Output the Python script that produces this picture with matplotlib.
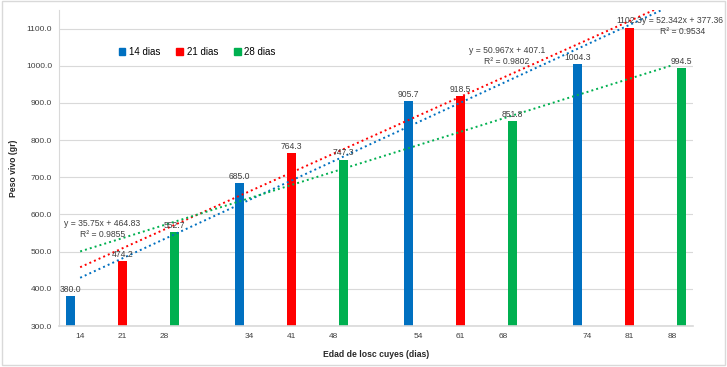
import matplotlib
matplotlib.use("Agg")
import matplotlib.pyplot as plt
from matplotlib.patches import Patch, Rectangle
import numpy as np

plt.rcParams['font.family'] = ['Liberation Sans', 'DejaVu Sans']

# category axis (blank slots separate the groups)
categories = ['14', '21', '28', '', '34', '41', '48', '', '54', '61', '68', '', '74', '81', '88']

# series values
series_names = ['14 dias', '21 dias', '28 dias']
dias14 = [380.0, 685.0, 905.7, 1004.3]
dias21 = [474.2, 764.3, 918.5, 1102.3]
dias28 = [552.7, 747.3, 851.8, 994.5]

# trendline labels as printed on the chart
trend_labels = ['y = 52.342x + 377.36\nR² = 0.9534',
                'y = 50.967x + 407.1\nR² = 0.9802',
                'y = 35.75x + 464.83\nR² = 0.9855']

colors = ['#0070C0', '#FF0000', '#00B050']
offsets = [-0.23, 0.0, 0.23]

fig = plt.figure(figsize=(7.27, 3.67), dpi=100)
ax = fig.add_axes([0.0812, 0.1117, 0.8721, 0.8611])

n_cat = len(categories)
x_all = np.arange(n_cat)

for k, (vals, col, off) in enumerate(zip([dias14, dias21, dias28], colors, offsets)):
    idx = np.array([g * 4 + k for g in range(len(vals))])
    xb = idx + off
    ax.bar(xb, np.array(vals) - 300, bottom=300, width=0.215, color=col, zorder=2)
    for xx, v in zip(xb, vals):
        ax.text(xx, v + 6, f"{v:.1f}", ha='center', va='bottom', fontsize=6.2, color='#404040', zorder=4)
    # linear trendline, Excel style (x = category number 1..15)
    xe = idx + 1
    m, b = np.polyfit(xe, vals, 1)
    ax.plot(x_all, m * (x_all + 1) + b, color=col, lw=1.4, linestyle=(0, (1, 1.6)), zorder=3)
    pos = [(14.26, 1107), (10.1, 1027), (0.52, 560)][k]
    ax.text(pos[0], pos[1], trend_labels[k], ha='center', va='center', fontsize=6.2, color='#404040',
            linespacing=1.25, zorder=5, clip_on=False)

ax.set_xlim(-0.5, n_cat - 0.5)
ax.set_ylim(300, 1150)
ax.set_xticks(x_all)
ax.set_xticklabels(categories, fontsize=6, color='#404040')
ax.set_yticks(np.arange(300, 1101, 100))
ax.set_yticklabels([f"{v:.1f}" for v in np.arange(300, 1101, 100)], fontsize=6, color='#404040')
ax.tick_params(length=0, pad=5)
ax.grid(axis='y', color='#d9d9d9', lw=0.8, zorder=0)
ax.set_axisbelow(True)
for s in ['top', 'right']:
    ax.spines[s].set_visible(False)
ax.spines['left'].set_color('#d9d9d9')
ax.spines['bottom'].set_color('#d9d9d9')
ax.spines['bottom'].set_linewidth(1.2)

ax.set_xlabel('Edad de losc cuyes (dias)', fontsize=6.2, fontweight='bold', color='#262626', labelpad=7)
ax.set_ylabel('Peso vivo (gr)', fontsize=6.2, fontweight='bold', color='#262626', labelpad=6)

handles = [Patch(color=c, label=n) for c, n in zip(colors, series_names)]
ax.legend(handles=handles, loc='center left', bbox_to_anchor=(0.08, 0.867), ncol=3, frameon=False,
          fontsize=7, handlelength=0.7, handleheight=0.7, handletextpad=0.4, columnspacing=1.6)

# chart border
fig.patches.append(Rectangle((0.003, 0.006), 0.994, 0.99, transform=fig.transFigure,
                             fill=False, edgecolor='#d9d9d9', lw=1))

fig.savefig('out.png', dpi=100)
